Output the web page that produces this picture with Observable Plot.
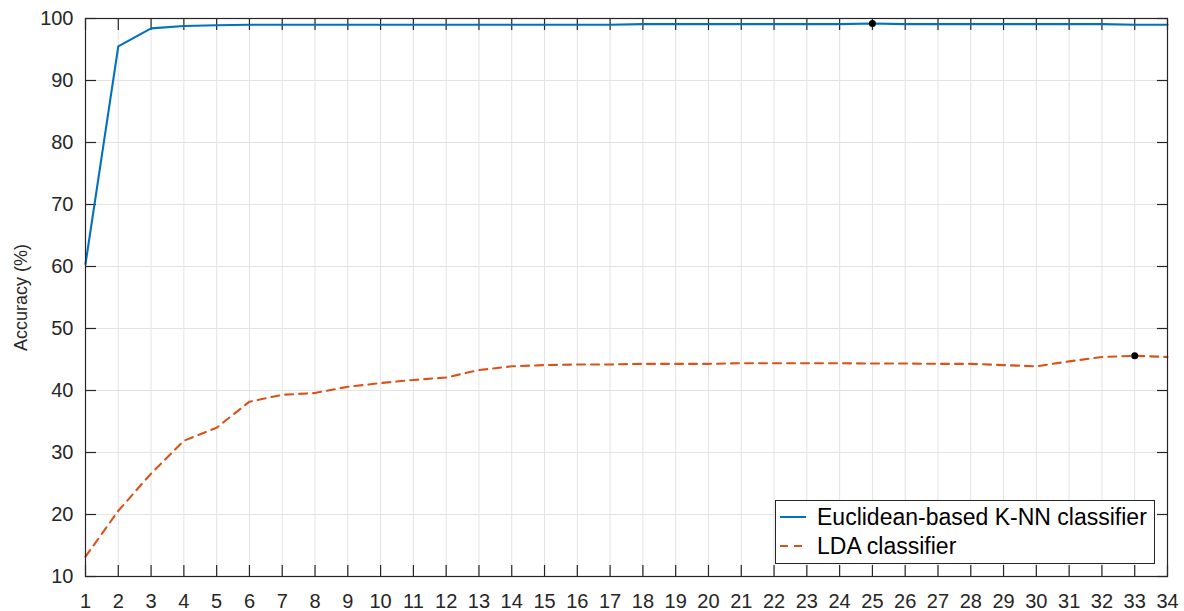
<!DOCTYPE html>
<html>
<head>
<meta charset="utf-8">
<script src="https://cdn.jsdelivr.net/npm/d3@7"></script>
<script src="https://cdn.jsdelivr.net/npm/@observablehq/plot@0.6"></script>
<style>
  html, body { margin: 0; padding: 0; background: #fff; }
  #wrap { position: relative; width: 1184px; height: 611px; font-family: "Liberation Sans", Arial, sans-serif; }
  #legend { position: absolute; left: 775px; top: 500px; width: 380px; height: 64px; background: #fff; border: 1px solid #262626; box-sizing: border-box; font-size: 23px; color: #000; }
  #legend .row { position: absolute; left: 0; height: 28px; display: flex; align-items: center; white-space: nowrap; }
  #legend svg { margin-left: 3px; margin-right: 10px; }
</style>
</head>
<body>
<div id="wrap"></div>
<script>
// Number of features / neighbours (x categories)
const kValues = [1,2,3,4,5,6,7,8,9,10,11,12,13,14,15,16,17,18,19,20,21,22,23,24,25,26,27,28,29,30,31,32,33,34];
// Euclidean-based K-NN classifier accuracy (%)
const knnAccuracy = [60.4,95.5,98.4,98.8,98.9,99.0,99.0,99.0,99.0,99.0,99.0,99.0,99.0,99.0,99.0,99.0,99.0,99.1,99.1,99.1,99.1,99.1,99.1,99.1,99.2,99.1,99.1,99.1,99.1,99.1,99.1,99.1,99.0,99.0];
// LDA classifier accuracy (%)
const ldaAccuracy = [13.2,20.6,26.6,31.9,34.0,38.2,39.3,39.6,40.6,41.2,41.7,42.1,43.3,43.9,44.1,44.2,44.2,44.3,44.3,44.3,44.4,44.4,44.4,44.4,44.35,44.35,44.3,44.3,44.1,43.9,44.7,45.4,45.6,45.4];
const yTicks = [10,20,30,40,50,60,70,80,90,100];
const seriesNames = ["Euclidean-based K-NN classifier", "LDA classifier"];
const seriesColors = ["#0072BD", "#D95319"];

const knn = kValues.map((k, i) => ({k, v: knnAccuracy[i]}));
const lda = kValues.map((k, i) => ({k, v: ldaAccuracy[i]}));
const knnBest = knn[d3.maxIndex(knn, d => d.v)];
const ldaBest = lda[d3.maxIndex(lda, d => d.v)];

const axisColor = "#262626";
const chart = Plot.plot({
  width: 1184,
  height: 611,
  marginLeft: 85,
  marginRight: 17,
  marginTop: 18,
  marginBottom: 35,
  style: {fontFamily: "'Liberation Sans', Arial, sans-serif", background: "#fff", color: axisColor},
  x: {domain: [1, 34]},
  y: {domain: [10, 100]},
  marks: [
    Plot.gridX(kValues, {stroke: "#e3e3e3", strokeOpacity: 1}),
    Plot.gridY(yTicks, {stroke: "#e3e3e3", strokeOpacity: 1}),
    // tick labels
    Plot.axisX(kValues, {anchor: "bottom", tickSize: 0, tickPadding: 17, fontSize: 20, label: null, fill: axisColor}),
    Plot.axisY(yTicks, {anchor: "left", tickSize: 0, tickPadding: 12, fontSize: 20, fill: axisColor, label: null}),
    // y-axis title
    Plot.axisY(yTicks, {anchor: "left", tickSize: 0, tickFormat: () => "", fontSize: 18, fill: axisColor,
      label: "Accuracy (%)", labelAnchor: "center", labelArrow: "none", labelOffset: 71}),
    // inward ticks on all four sides
    Plot.axisX(kValues, {anchor: "bottom", tickSize: -11, fill: "none", label: null, stroke: axisColor, strokeWidth: 1.2}),
    Plot.axisX(kValues, {anchor: "top", tickSize: -11, fill: "none", label: null, stroke: axisColor, strokeWidth: 1.2}),
    Plot.axisY(yTicks, {anchor: "left", tickSize: -11, fill: "none", label: null, stroke: axisColor, strokeWidth: 1.2}),
    Plot.axisY(yTicks, {anchor: "right", tickSize: -11, fill: "none", label: null, stroke: axisColor, strokeWidth: 1.2}),
    Plot.line(knn, {x: "k", y: "v", stroke: seriesColors[0], strokeWidth: 2.1}),
    Plot.line(lda, {x: "k", y: "v", stroke: seriesColors[1], strokeWidth: 2.1, strokeDasharray: "8,6"}),
    Plot.dot([knnBest, ldaBest], {x: "k", y: "v", r: 3.5, fill: "#000", stroke: null}),
    Plot.frame({stroke: axisColor, strokeWidth: 1.2})
  ]
});

const wrap = document.getElementById("wrap");
wrap.appendChild(chart);

const legend = document.createElement("div");
legend.id = "legend";
seriesNames.forEach((name, i) => {
  const row = document.createElement("div");
  row.className = "row";
  row.style.top = (2 + i * 29) + "px";
  row.innerHTML = `<svg width="28" height="10"><line x1="1" x2="27" y1="5" y2="5" stroke="${seriesColors[i]}" stroke-width="2" ${i === 1 ? 'stroke-dasharray="8,6"' : ''}/></svg><span>${name}</span>`;
  legend.appendChild(row);
});
wrap.appendChild(legend);
</script>
</body>
</html>
